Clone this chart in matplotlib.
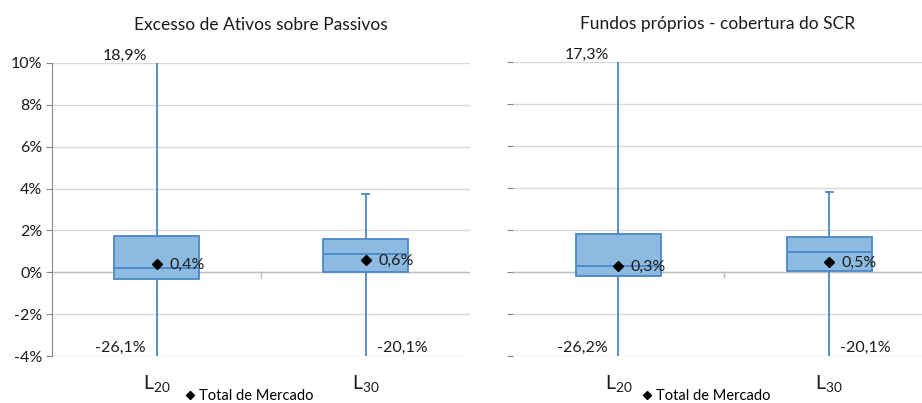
import matplotlib
matplotlib.use("Agg")
import matplotlib.pyplot as plt
from matplotlib.lines import Line2D

plt.rcParams["font.family"] = ["Lato", "DejaVu Sans"]
plt.rcParams["mathtext.fontset"] = "custom"
plt.rcParams["mathtext.rm"] = "Lato"

# ---- data (%) ----
categories = [r"$\mathregular{L_{20}}$", r"$\mathregular{L_{30}}$"]

titles = ["Excesso de Ativos sobre Passivos", "Fundos próprios - cobertura do SCR"]

# panel 1: excess of assets over liabilities
p1_low = [-26.1, -20.1]
p1_q1 = [-0.3, 0.0]
p1_med = [0.2, 0.85]
p1_q3 = [1.75, 1.6]
p1_high = [18.9, 3.75]
p1_mean = [0.4, 0.6]

# panel 2: own funds / SCR coverage
p2_low = [-26.2, -20.1]
p2_q1 = [-0.2, 0.05]
p2_med = [0.3, 0.95]
p2_q3 = [1.8, 1.65]
p2_high = [17.3, 3.8]
p2_mean = [0.3, 0.5]

YMIN, YMAX = -4, 10
BOX_FACE = "#8DBAE0"
BOX_EDGE = "#4A87C6"
GRID = "#D9D9D9"
TXT = "#1a1a1a"
FS = 11.5


def pct(v):
    return f"{v:.1f}%".replace(".", ",")


def draw_panel(ax, low, q1, med, q3, high, mean, title, show_labels, xlim):
    stats = []
    for i in range(len(categories)):
        stats.append(dict(whislo=low[i], q1=q1[i], med=med[i], q3=q3[i],
                          whishi=high[i], mean=mean[i], fliers=[]))
    pos = [1, 2]
    ax.bxp(stats, positions=pos, widths=0.405, patch_artist=True,
           showmeans=False, showfliers=False, capwidths=0.035,
           boxprops=dict(facecolor=BOX_FACE, edgecolor=BOX_EDGE, linewidth=1.3),
           medianprops=dict(color=BOX_EDGE, linewidth=1.3),
           whiskerprops=dict(color=BOX_EDGE, linewidth=1.3),
           capprops=dict(color=BOX_EDGE, linewidth=1.3), zorder=3)
    ax.plot(pos, mean, linestyle="none", marker="D", markersize=5.5,
            color="black", zorder=5)

    for i, p in enumerate(pos):
        ax.annotate(pct(mean[i]), xy=(p, mean[i]), xytext=(9, -1),
                    textcoords="offset points", ha="left", va="center",
                    fontsize=FS, color=TXT, zorder=6)
        # extremes beyond the visible range get a label
        if high[i] > YMAX:
            ax.annotate(pct(high[i]), xy=(p, YMAX), xytext=(-7, 0),
                        textcoords="offset points", ha="right", va="bottom",
                        fontsize=FS, color=TXT, annotation_clip=False)
        if low[i] < YMIN:
            if i == 0:
                ax.annotate(pct(low[i]), xy=(p, YMIN), xytext=(-8, 1),
                            textcoords="offset points", ha="right", va="bottom",
                            fontsize=FS, color=TXT, annotation_clip=False)
            else:
                ax.annotate(pct(low[i]), xy=(p, YMIN), xytext=(8, 1),
                            textcoords="offset points", ha="left", va="bottom",
                            fontsize=FS, color=TXT, annotation_clip=False)

    ax.set_ylim(YMIN, YMAX)
    ax.set_xlim(*xlim)
    ax.set_yticks(range(YMIN, YMAX + 1, 2))
    if show_labels:
        ax.set_yticklabels([f"{t}%" for t in range(YMIN, YMAX + 1, 2)])
    else:
        ax.set_yticklabels([])
    ax.tick_params(axis="y", length=4, color="#868686", labelsize=FS,
                   labelcolor=TXT, pad=3)
    ax.yaxis.grid(True, color=GRID, linewidth=1.0, zorder=0)
    ax.set_axisbelow(True)

    ax.set_xticks(pos)
    ax.set_xticklabels(categories, fontsize=14, color=TXT)
    ax.tick_params(axis="x", length=0, pad=12)

    for s in ["top", "right", "bottom"]:
        ax.spines[s].set_visible(False)
    if show_labels:
        ax.spines["left"].set_color("#868686")
    else:
        ax.spines["left"].set_visible(False)

    # category axis crossing at zero
    ax.axhline(0, color="#BFBFBF", linewidth=1.0, zorder=1)
    ax.plot([1.5, 1.5], [0, -0.25], color="#BFBFBF", linewidth=1.0, zorder=1)

    ax.text(0.5, 1.13, title, transform=ax.transAxes, ha="center",
            va="center", fontsize=12.5, color=TXT)

    handle = Line2D([], [], linestyle="none", marker="D", markersize=4.5,
                    color="black")
    ax.legend([handle], ["Total de Mercado"], loc="center",
              bbox_to_anchor=(0.47, -0.137), frameon=False, fontsize=10.5,
              handletextpad=0.1, handlelength=1.0, borderpad=0)


fig = plt.figure(figsize=(9.22, 4.03), dpi=100)
H = 403
ax1 = fig.add_axes([52 / 922, 1 - 356 / H, 418 / 922, 293 / H])
ax2 = fig.add_axes([513 / 922, 1 - 356 / H, 409 / 922, 294 / H])

draw_panel(ax1, p1_low, p1_q1, p1_med, p1_q3, p1_high, p1_mean, titles[0],
           True, (0.5, 2.5))
draw_panel(ax2, p2_low, p2_q1, p2_med, p2_q3, p2_high, p2_mean, titles[1],
           False, (0.5, 2.44))

fig.savefig("out.png", dpi=100)
